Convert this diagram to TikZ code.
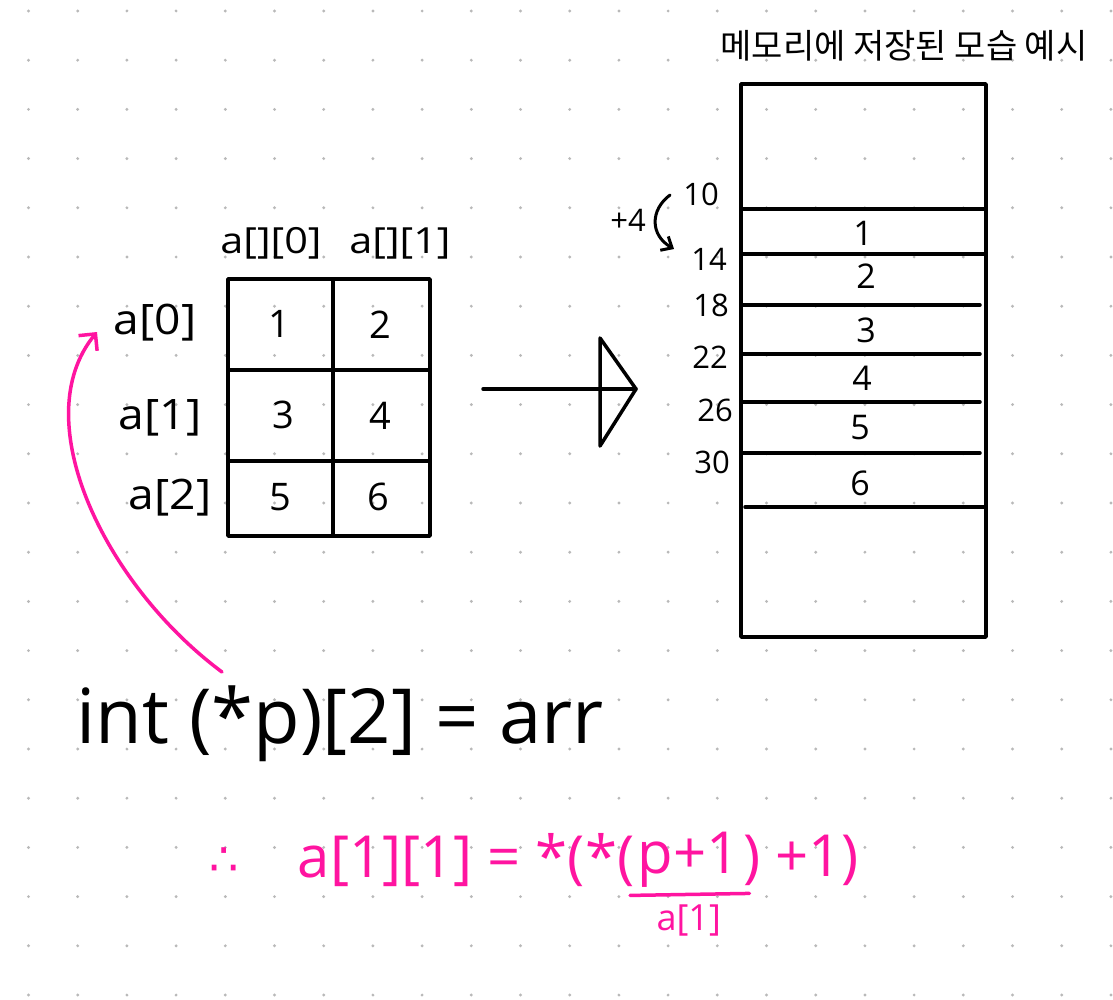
\documentclass[tikz,border=0pt]{standalone}
\usepackage{fontspec}
\setmainfont{Open Sans}
\newfontfamily\kr{Noto Sans CJK KR}
\newfontfamily\dejavu{DejaVu Sans}
\usetikzlibrary{arrows.meta}
\definecolor{pinkc}{RGB}{255,20,160}
\definecolor{dotc}{RGB}{185,185,185}
\begin{document}
\begin{tikzpicture}[x=1pt,y=-1pt, line width=3.5pt, line cap=round, line join=round,
  txt/.style={inner sep=0pt, font=\fontsize{#1}{#1}\selectfont},
  txt/.default=34,
  pk/.style={text=pinkc},
  pkline/.style={draw=pinkc, line width=3.5pt}]
\useasboundingbox (0,0) rectangle (1113,1000);
\fill[white] (0,0) rectangle (1113,1000);
\foreach \i in {0,...,22} \foreach \j in {0,...,20} \fill[dotc] (28.5+\i*49.2, 11+\j*49.2) circle (1.6pt);

% title
\node[txt=34] (title) at (904,46) {\kr 메모리에 저장된 모습 예시};

% memory block
\draw (741,84) rectangle (986,637);
\draw (741,209) -- (986,209);
\draw (741,254) -- (986,254);
\draw (741,305) -- (980,305);
\draw (741,354) -- (980,354);
\draw (741,402) -- (980,402);
\draw (741,453) -- (980,453);
\draw (745,507) -- (986,507);
\node[txt=34] (m1) at (863,233) {1};
\node[txt=34] (m2) at (866,276) {2};
\node[txt=34] (m3) at (866,330) {3};
\node[txt=34] (m4) at (862,378) {4};
\node[txt=34] (m5) at (860,428) {5};
\node[txt=34] (m6) at (860,483) {6};
\node[txt=31] (ad10) at (701,194) {10};
\node[txt=31] (ad14) at (709,259) {14};
\node[txt=31] (ad18) at (711,305) {18};
\node[txt=31] (ad22) at (710,357) {22};
\node[txt=31] (ad26) at (715,410) {26};
\node[txt=31] (ad30) at (712,462) {30};
\node[txt=31] (plus4) at (628,220) {+4};
\coordinate (cs) at (670,195);
\coordinate (ce) at (674,249);
\draw[line width=3pt, -{Straight Barb[length=9pt,width=16pt]}] (cs) .. controls (650,210) and (650,235) .. (ce);

% big arrow
\coordinate (bs) at (483,389);
\coordinate (btip) at (636,389);
\draw (bs) -- (btip);
\draw (600,338) -- (btip) -- (600,446) -- cycle;

% table
\draw (228,279) rectangle (430,536);
\draw (333,279) -- (333,536);
\draw (228,370) -- (430,370);
\draw (228,461) -- (430,461);
\node[txt=38] (t1) at (279,324) {1};
\node[txt=38] (t2) at (380,325) {2};
\node[txt=38] (t3) at (283,415) {3};
\node[txt=38] (t4) at (380,416) {4};
\node[txt=38] (t5) at (280,497) {5};
\node[txt=38] (t6) at (378,497) {6};
\node[txt=36] (h0) at (271,243) {\scalebox{1.15}[1]{a[][0]}};
\node[txt=36] (h1) at (400,243) {\scalebox{1.15}[1]{a[][1]}};
\node[txt=42] (a0) at (155,323) {\scalebox{1.1}[1]{a[0]}};
\node[txt=42] (a1) at (160,418) {\scalebox{1.1}[1]{a[1]}};
\node[txt=42] (a2) at (170,498) {\scalebox{1.1}[1]{a[2]}};

% declaration
\node[txt=76] (decl) at (340,724) {int (*p)[2] = arr};
\coordinate (ps) at (222,672);
\coordinate (pe) at (97,332);
\draw[pkline, -{Straight Barb[length=12pt,width=24pt]}] (ps) .. controls (105,585) and (25,420) .. (pe);

% formula
\node[pk, txt=46] (there) at (224,862) {\dejavu ∴};
\node[pk, txt=58, anchor=west] (eqL) at (296,860) {a[1][1] = *(*(};
\node[pk, txt=58, anchor=west] (eqP) at (eqL.east) {p+1};
\node[pk, txt=58, anchor=west] (eqR) at (eqP.east) {) +1)};
\draw[pkline] ([xshift=-6pt,yshift=-6pt]eqP.south west) -- ([xshift=8pt,yshift=-4pt]eqP.south east);
\node[pk, txt=36, anchor=north] (eqA) at ([yshift=-14pt]eqP.south) {a[1]};
\end{tikzpicture}
\end{document}
